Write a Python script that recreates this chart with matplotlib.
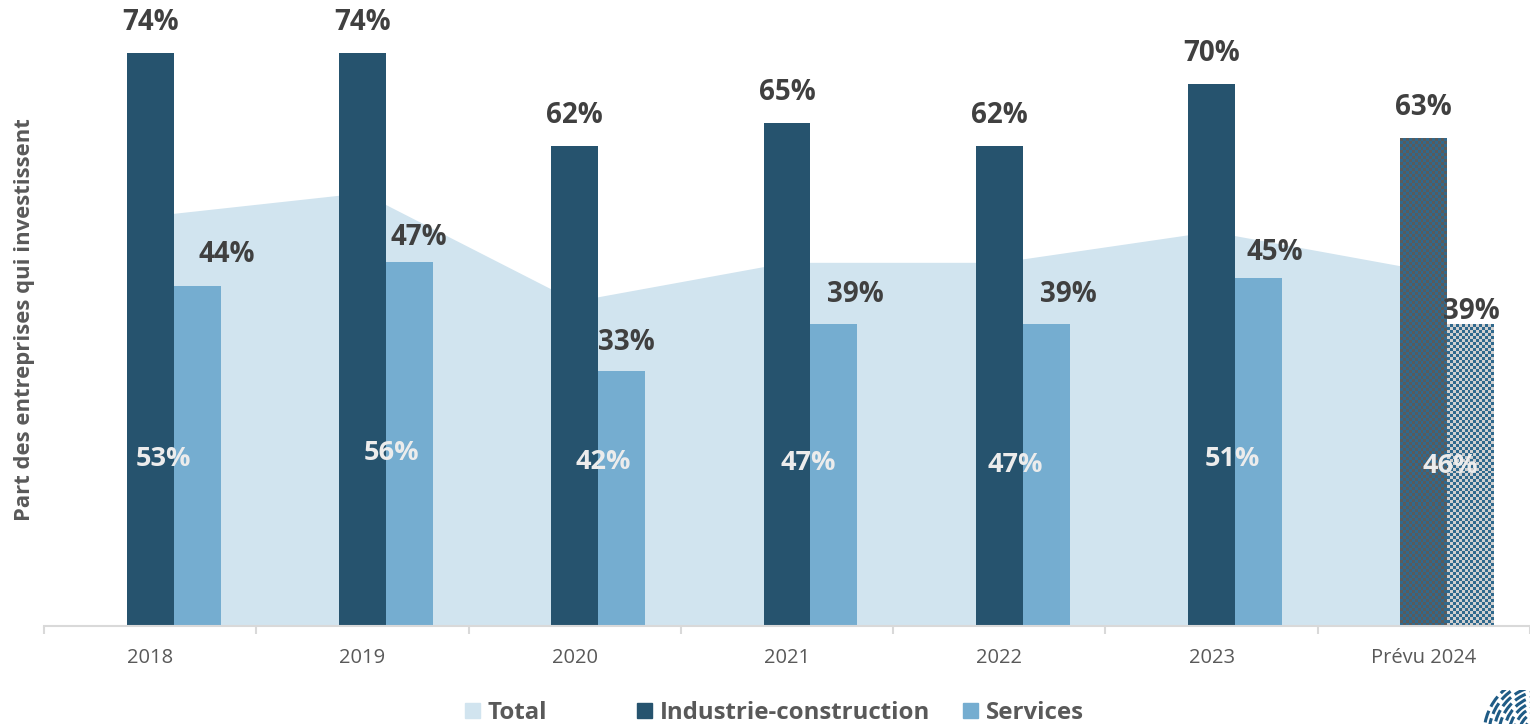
import numpy as np
import matplotlib.pyplot as plt
from matplotlib.colors import ListedColormap
from matplotlib.patches import Patch, Arc

plt.rcParams['font.family'] = ['Open Sans', 'DejaVu Sans']

# Données
annees = ['2018', '2019', '2020', '2021', '2022', '2023', 'Prévu 2024']
total = [53, 56, 42, 47, 47, 51, 46]
industrie = [74, 74, 62, 65, 62, 70, 63]
services = [44, 47, 33, 39, 39, 45, 39]

# Couleurs
c_total = '#d1e4ef'
c_ind = '#26536e'
c_serv = '#75add0'
c_txt = '#404040'
c_gris = '#595959'

# placement manuel des étiquettes (comme dans le graphique Excel)
serv_dx = [30, 9, 4.5, 21.5, 22, 16, 1]      # px
serv_dy = [31, 25, 28, 30, 30, 25, 13]       # px
total_dx = [13, 29, 29, 21, 16, 21, 26.5]    # px
total_y = [21.6, 22.4, 21.2, 21.1, 20.8, 21.6, 20.7]

fig = plt.figure(figsize=(15.3, 7.24), dpi=100)
ax = fig.add_axes([44 / 1530, 98 / 724, 1 - 44 / 1530, 626 / 724])

x = np.arange(len(annees))
w = 0.221

ax.fill_between(x, total, color=c_total, lw=0, zorder=0)
b_ind = ax.bar(x, industrie, width=w, color=c_ind, zorder=2)
b_serv = ax.bar(x + w, services, width=w, color=c_serv, zorder=2)

ax.set_xlim(-0.5, len(annees) - 0.5)
ax.set_ylim(0, 80.9)

# motif damier pour la prévision 2024
def damier(bar, c1, c2, cell=3):
    x0, y0, bw, bh = bar.get_x(), bar.get_y(), bar.get_width(), bar.get_height()
    p0 = ax.transData.transform((x0, y0))
    p1 = ax.transData.transform((x0 + bw, y0 + bh))
    nx = max(1, int(round((p1[0] - p0[0]) / cell)))
    ny = max(1, int(round((p1[1] - p0[1]) / cell)))
    arr = (np.add.outer(np.arange(ny), np.arange(nx)) % 2)
    ax.imshow(arr, extent=[x0, x0 + bw, y0, y0 + bh], aspect='auto',
              cmap=ListedColormap([c1, c2]), interpolation='nearest', zorder=2.5)

damier(b_ind[-1], '#5a5a5a', '#30698d')
damier(b_serv[-1], '#d0d0d0', '#30698d')
ax.set_xlim(-0.5, len(annees) - 0.5)
ax.set_ylim(0, 80.9)

pt = 0.72  # px -> points
for i, v in enumerate(industrie):
    ax.annotate(f'{v}%', (x[i], v), xytext=(0, 31 * pt), textcoords='offset points',
                ha='center', va='center', fontsize=20, fontweight='bold', color=c_txt, zorder=5)
for i, v in enumerate(services):
    ax.annotate(f'{v}%', (x[i] + w, v), xytext=(serv_dx[i] * pt, serv_dy[i] * pt),
                textcoords='offset points', ha='center', va='center',
                fontsize=20, fontweight='bold', color=c_txt, zorder=5)
for i, v in enumerate(total):
    ax.annotate(f'{v}%', (x[i], total_y[i]), xytext=(total_dx[i] * pt, 0),
                textcoords='offset points', ha='center', va='center',
                fontsize=19.5, fontweight='bold', color='#ececec', zorder=5)

# axes
for s in ['top', 'right', 'left']:
    ax.spines[s].set_visible(False)
ax.spines['bottom'].set_color('#d9d9d9')
ax.spines['bottom'].set_linewidth(1.5)
ax.set_yticks([])
ax.set_xticks(x)
ax.set_xticklabels(annees, fontsize=14.5, color=c_gris)
ax.tick_params(axis='x', which='major', length=0, pad=16)
ax.set_xticks(np.arange(len(annees) + 1) - 0.5, minor=True)
ax.tick_params(axis='x', which='minor', length=6, width=1.5, color='#d9d9d9')

fig.text(25 / 1530, 1 - 320 / 724, 'Part des entreprises qui investissent', rotation=90,
         ha='center', va='center', fontsize=15.8, fontweight='bold', color=c_gris)

# légende
items = [('Total', c_total, 465), ('Industrie-construction', c_ind, 637), ('Services', c_serv, 963)]
for nom, col, px in items:
    leg = fig.legend(handles=[Patch(color=col, label=nom)], loc='center left',
                     bbox_to_anchor=(px / 1530, 1 - 713 / 724), frameon=False,
                     borderpad=0, borderaxespad=0, handlelength=0.62, handleheight=0.62,
                     handletextpad=0.33, prop={'size': 17.3, 'weight': 'bold'})
    for t in leg.get_texts():
        t.set_color(c_gris)

# logo (coin bas droit)
lax = fig.add_axes([1480 / 1530, 0, 50 / 1530, 34 / 724])
lax.set_xlim(0, 50)
lax.set_ylim(0, 34)
lax.axis('off')
for r in range(8, 60, 5):
    lax.add_patch(Arc((62, -10), 2 * r, 2 * r, theta1=90, theta2=180, color='#1f5b85',
                      lw=2.2, linestyle=(0, (4, 1.5))))

fig.savefig('out.png', dpi=100, facecolor='white')
